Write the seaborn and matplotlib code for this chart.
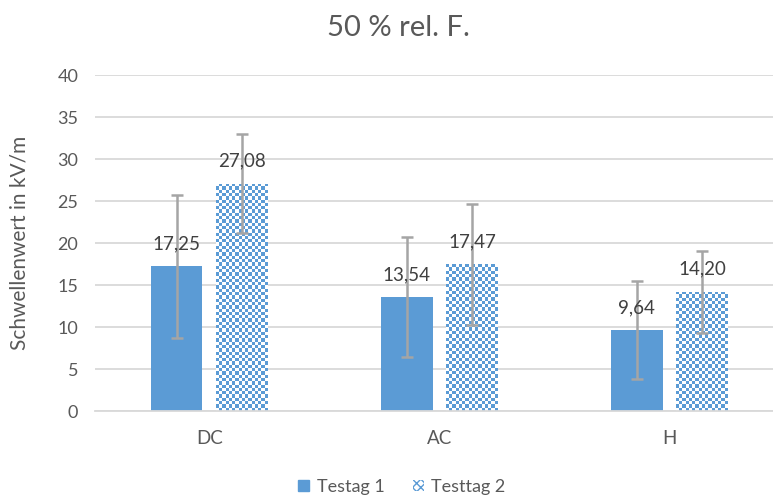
import numpy as np
import pandas as pd
import matplotlib
matplotlib.use("Agg")
import matplotlib.pyplot as plt
from matplotlib.colors import ListedColormap
from matplotlib.patches import Patch
import seaborn as sns

categories = ["DC", "AC", "H"]
series_names = ["Testag 1", "Testtag 2"]
testtag1 = [17.25, 13.54, 9.64]
testtag2 = [27.08, 17.47, 14.20]
err1 = [8.5, 7.15, 5.8]
err2 = [5.9, 7.2, 4.9]
title = "50 % rel. F."
ylabel = "Schwellenwert in kV/m"
yticks = [0, 5, 10, 15, 20, 25, 30, 35, 40]

BLUE = "#5B9BD5"
TXT = "#595959"
GRID = "#D9D9D9"
ERR = "#A5A5A5"

sns.set_theme(style="white")
plt.rcParams["font.family"] = ["Lato", "DejaVu Sans"]

df = pd.DataFrame({
    "cat": categories * 2,
    "series": [series_names[0]] * 3 + [series_names[1]] * 3,
    "value": testtag1 + testtag2,
})
errs = [err1, err2]

fig = plt.figure(figsize=(7.73, 5.01), dpi=100)
ax = fig.add_axes([95 / 773, (501 - 411) / 501, 1 - 95 / 773, (411 - 75) / 501])

sns.barplot(data=df, x="cat", y="value", hue="series", palette=[BLUE, BLUE],
            width=0.57, gap=0.21, errorbar=None, ax=ax, legend=False,
            saturation=1, linewidth=0, zorder=2)

ax.set_ylim(0, 40)
ax.set_xlim(-0.497, 2.45)
ax.set_yticks(yticks)
ax.yaxis.grid(True, color=GRID, linewidth=1.3, zorder=0)
ax.set_axisbelow(True)
for s in ["top", "right", "left"]:
    ax.spines[s].set_visible(False)
ax.spines["bottom"].set_color(GRID)
ax.spines["bottom"].set_linewidth(1.3)
ax.tick_params(axis="both", length=0, colors=TXT)
ax.tick_params(axis="y", labelsize=13, pad=12)
ax.tick_params(axis="x", labelsize=13.5, pad=14)
ax.set_xlabel("")
ax.set_ylabel(ylabel, color=TXT, fontsize=15, labelpad=20)
fig.text(0.515, 0.945, title, ha="center", va="center", color=TXT, fontsize=21)

# checkered fill for second series
cmap = ListedColormap(["white", BLUE])
cell = 3.3
for patch in ax.containers[1]:
    x, y = patch.get_x(), patch.get_y()
    w, h = patch.get_width(), patch.get_height()
    p0 = ax.transData.transform((x, y))
    p1 = ax.transData.transform((x + w, y + h))
    nx = max(1, int(round((p1[0] - p0[0]) / cell)))
    ny = max(1, int(round((p1[1] - p0[1]) / cell)))
    ii, jj = np.indices((ny, nx))
    arr = (ii + jj) % 2
    im = ax.imshow(arr, cmap=cmap, extent=[x, x + w, y, y + h], aspect="auto",
                   interpolation="nearest", origin="lower", zorder=2)
    im.set_clip_path(patch)
    patch.set_facecolor("none")
ax.set_xlim(-0.497, 2.45)
ax.set_ylim(0, 40)

# error bars and value labels
for k, cont in enumerate(ax.containers[:2]):
    for j, patch in enumerate(cont):
        cx = patch.get_x() + patch.get_width() / 2
        v = patch.get_height()
        ax.errorbar(cx, v, yerr=errs[k][j], fmt="none", ecolor=ERR,
                    elinewidth=1.8, capsize=4.5, capthick=1.8, zorder=3)
        ax.annotate(f"{v:.2f}".replace(".", ","), (cx, v), xytext=(0, 10),
                    textcoords="offset points", ha="center", va="bottom",
                    color="#404040", fontsize=13.5, zorder=4)

handles = [Patch(facecolor=BLUE, edgecolor=BLUE),
           Patch(facecolor="white", edgecolor=BLUE, hatch="xxxx", linewidth=0)]
leg = fig.legend(handles, series_names, loc="center", bbox_to_anchor=(0.52, 0.028),
                 ncol=2, frameon=False, fontsize=13, handlelength=0.6,
                 handleheight=0.6, handletextpad=0.4, columnspacing=1.6)
for t in leg.get_texts():
    t.set_color(TXT)

fig.savefig("out.png", dpi=100)
